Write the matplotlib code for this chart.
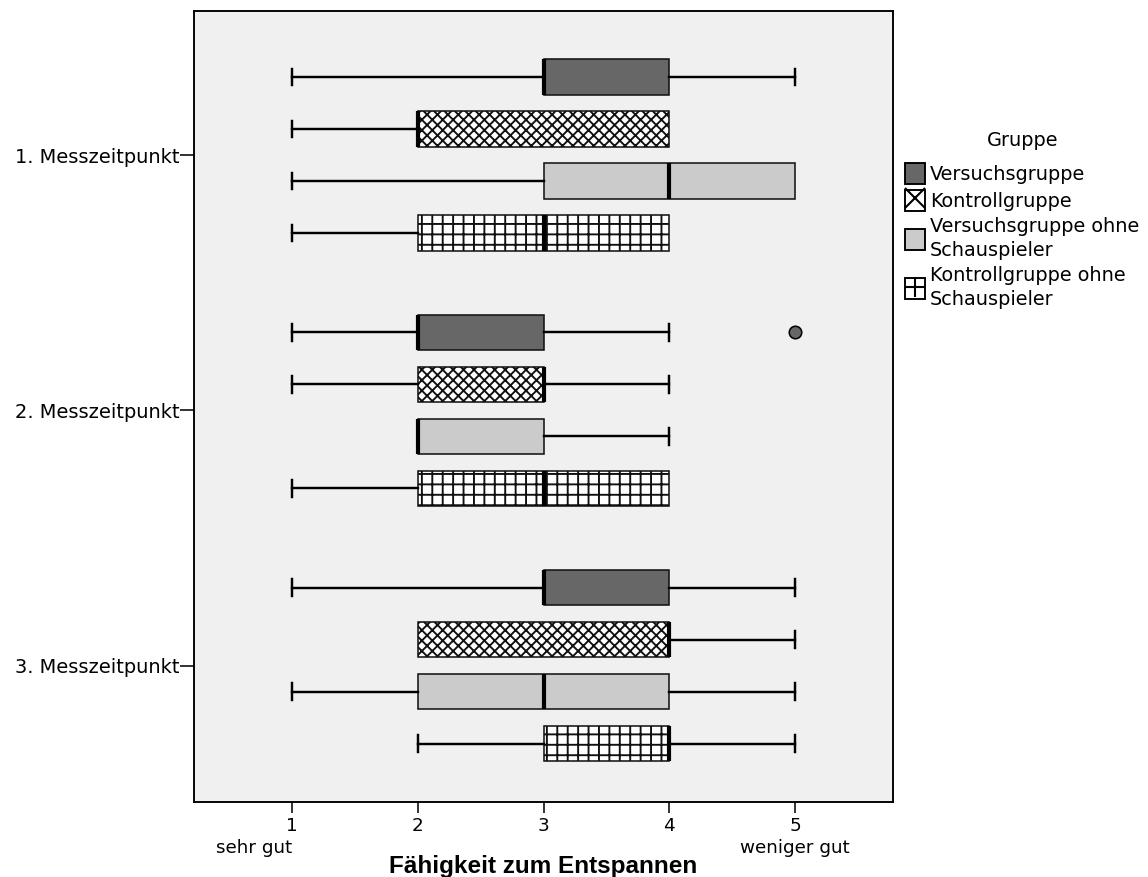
import matplotlib
matplotlib.use("Agg")
import matplotlib.pyplot as plt
from matplotlib.patches import Patch
from matplotlib.lines import Line2D
from matplotlib.legend_handler import HandlerTuple
from matplotlib.transforms import blended_transform_factory

# ---- data -------------------------------------------------------------
groups = ["1. Messzeitpunkt", "2. Messzeitpunkt", "3. Messzeitpunkt"]
series = ["Versuchsgruppe", "Kontrollgruppe",
          "Versuchsgruppe ohne\nSchauspieler", "Kontrollgruppe ohne\nSchauspieler"]

# five-number summaries per series, one value per Messzeitpunkt
vg_whislo = [1, 1, 1]
vg_q1 = [3, 2, 3]
vg_med = [3, 2, 3]
vg_q3 = [4, 3, 4]
vg_whishi = [5, 4, 5]
vg_fliers = [[], [5], []]

kg_whislo = [1, 1, 2]
kg_q1 = [2, 2, 2]
kg_med = [2, 3, 4]
kg_q3 = [4, 3, 4]
kg_whishi = [4, 4, 5]
kg_fliers = [[], [], []]

vgo_whislo = [1, 2, 1]
vgo_q1 = [3, 2, 2]
vgo_med = [4, 2, 3]
vgo_q3 = [5, 3, 4]
vgo_whishi = [5, 4, 5]
vgo_fliers = [[], [], []]

kgo_whislo = [1, 1, 2]
kgo_q1 = [2, 2, 3]
kgo_med = [3, 3, 4]
kgo_q3 = [4, 4, 4]
kgo_whishi = [4, 4, 5]
kgo_fliers = [[], [], []]

x_ticks = [1, 2, 3, 4, 5]
x_ticklabels = ["1", "2", "3", "4", "5"]
x_low_label = "sehr gut"
x_high_label = "weniger gut"
x_title = "Fähigkeit zum Entspannen"
legend_title = "Gruppe"

# ---- styling ----------------------------------------------------------
fills = ["#676767", "#ffffff", "#cbcbcb", "#ffffff"]
hatches = [None, "xxxx", None, "++"]
legend_marks = [None, "x", None, "+"]

plt.rcParams["font.family"] = ["DejaVu Sans"]
plt.rcParams["hatch.linewidth"] = 1.1

DPI = 125
W, H = 1148, 877
fig = plt.figure(figsize=(W / DPI, H / DPI), dpi=DPI)
L, R, T, B = 194, 893, 11, 802
ax = fig.add_axes([L / W, 1 - B / H, (R - L) / W, (B - T) / H])
ax.set_facecolor("#f0f0f0")

GROUP_GAP = 4.91
summary = [
    (vg_whislo, vg_q1, vg_med, vg_q3, vg_whishi, vg_fliers),
    (kg_whislo, kg_q1, kg_med, kg_q3, kg_whishi, kg_fliers),
    (vgo_whislo, vgo_q1, vgo_med, vgo_q3, vgo_whishi, vgo_fliers),
    (kgo_whislo, kgo_q1, kgo_med, kgo_q3, kgo_whishi, kgo_fliers),
]

for k, (lo, q1, med, q3, hi, fl) in enumerate(summary):
    stats = []
    pos = []
    for g in range(len(groups)):
        stats.append(dict(whislo=lo[g], q1=q1[g], med=med[g], q3=q3[g],
                          whishi=hi[g], fliers=fl[g]))
        pos.append(g * GROUP_GAP + (k - 1.5))
    bp = ax.bxp(stats, positions=pos, widths=0.68, orientation="horizontal",
                patch_artist=True, capwidths=0.32, showfliers=True,
                boxprops=dict(facecolor=fills[k], edgecolor="#111111",
                              linewidth=0.9, hatch=hatches[k]),
                whiskerprops=dict(color="black", linewidth=1.4),
                capprops=dict(color="black", linewidth=1.4),
                medianprops=dict(color="black", linewidth=2.4,
                                 solid_capstyle="butt"),
                flierprops=dict(marker="o", markersize=7.2,
                                markerfacecolor=fills[k],
                                markeredgecolor="black",
                                markeredgewidth=0.9))
    # whiskers that coincide with the box edge are not drawn
    for g, st in enumerate(stats):
        if st["whislo"] == st["q1"]:
            bp["whiskers"][2 * g].set_visible(False)
            bp["caps"][2 * g].set_visible(False)
        if st["whishi"] == st["q3"]:
            bp["whiskers"][2 * g + 1].set_visible(False)
            bp["caps"][2 * g + 1].set_visible(False)

ax.set_xlim(0.221, 5.779)
ax.set_ylim(2 * GROUP_GAP + 2.625, -2.77)

ax.set_yticks([g * GROUP_GAP for g in range(len(groups))])
ax.set_yticklabels(groups, fontsize=11.2)
ax.set_xticks(x_ticks)
ax.set_xticklabels(x_ticklabels, fontsize=10.6)
ax.tick_params(axis="y", direction="out", length=8, width=0.9, pad=0.5)
ax.tick_params(axis="x", direction="out", length=6.3, width=0.9, pad=2.5)
for sp in ax.spines.values():
    sp.set_linewidth(1.1)
    sp.set_color("black")

# end-point descriptions and title under the scale
xfig = blended_transform_factory(ax.transData, fig.transFigure)
ax.text(x_ticks[0], 1 - 853 / H, x_low_label, transform=xfig,
        ha="right", va="baseline", fontsize=10.6)
ax.text(x_ticks[-1], 1 - 853 / H, x_high_label, transform=xfig,
        ha="center", va="baseline", fontsize=10.6)
ax.text(3, 1 - 873 / H, x_title, transform=xfig,
        ha="center", va="baseline", fontsize=14, fontweight="bold",
        family="Liberation Sans")

# legend: filled squares, with an X / + drawn inside for the hatched groups
handles = []
for k in range(len(series)):
    sq = Patch(facecolor=fills[k], edgecolor="black", linewidth=1.1)
    if legend_marks[k]:
        mk = Line2D([], [], linestyle="none", marker=legend_marks[k],
                    markersize=11.0, markeredgewidth=1.2, color="black")
        handles.append((sq, mk))
    else:
        handles.append(sq)

fig.text(1023 / W, 1 - 140 / H, legend_title, ha="center", va="center",
         fontsize=11.1)
leg = fig.legend(handles, series, loc="upper left",
                 bbox_to_anchor=(905 / W, 1 - 163 / H), frameon=False,
                 fontsize=11.1, borderpad=0, borderaxespad=0,
                 handlelength=1.05, handleheight=1.3,
                 handletextpad=0.25, labelspacing=0.3,
                 handler_map={tuple: HandlerTuple(ndivide=1, pad=0)})
for t in leg.get_texts():
    t.set_linespacing(1.37)

fig.savefig("out.png", dpi=DPI, facecolor="white")
